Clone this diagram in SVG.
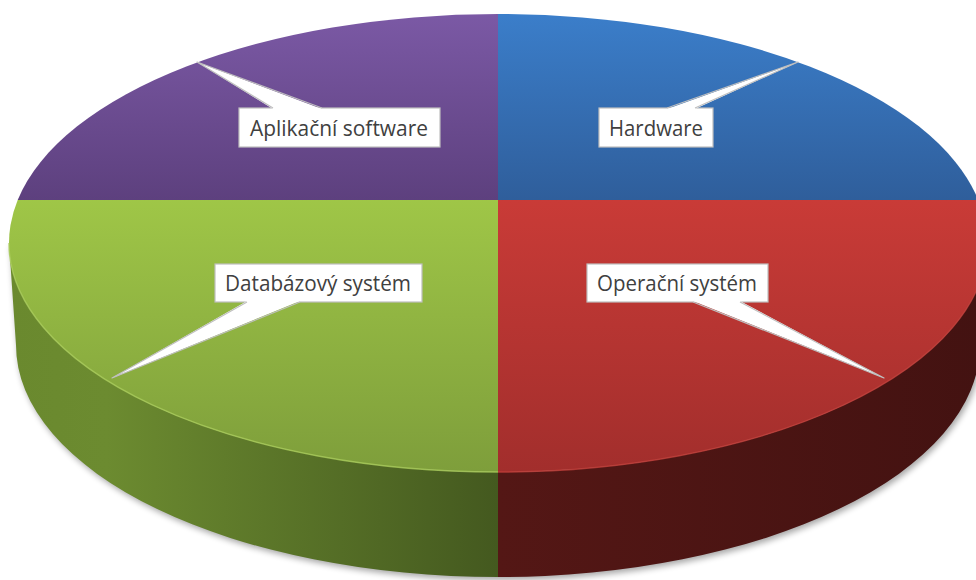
<svg xmlns="http://www.w3.org/2000/svg" width="976" height="580" viewBox="0 0 976 580">
  <defs>
    <linearGradient id="gPurple" gradientUnits="userSpaceOnUse" x1="0" y1="14" x2="0" y2="200">
      <stop offset="0" stop-color="#7b59a5"/>
      <stop offset="1" stop-color="#5d407e"/>
    </linearGradient>
    <linearGradient id="gBlue" gradientUnits="userSpaceOnUse" x1="0" y1="14" x2="0" y2="200">
      <stop offset="0" stop-color="#3b7eca"/>
      <stop offset="1" stop-color="#2f5e9b"/>
    </linearGradient>
    <linearGradient id="gGreen" gradientUnits="userSpaceOnUse" x1="0" y1="200" x2="0" y2="472">
      <stop offset="0" stop-color="#9fc647"/>
      <stop offset="1" stop-color="#7e9e3b"/>
    </linearGradient>
    <linearGradient id="gRed" gradientUnits="userSpaceOnUse" x1="0" y1="200" x2="0" y2="472">
      <stop offset="0" stop-color="#c93b37"/>
      <stop offset="1" stop-color="#a22e2c"/>
    </linearGradient>
    <linearGradient id="gGreenSide" gradientUnits="userSpaceOnUse" x1="9" y1="0" x2="498" y2="0">
      <stop offset="0" stop-color="#6a892e"/>
      <stop offset="0.2" stop-color="#6c8b30"/>
      <stop offset="1" stop-color="#44591f"/>
    </linearGradient>
    <linearGradient id="gRedSide" gradientUnits="userSpaceOnUse" x1="498" y1="0" x2="987" y2="0">
      <stop offset="0" stop-color="#541715"/>
      <stop offset="1" stop-color="#431211"/>
    </linearGradient>
    <filter id="shadow" x="-5%" y="-5%" width="110%" height="115%">
      <feGaussianBlur stdDeviation="3"/>
    </filter>
    <style>
      .box { fill: #ffffff; stroke: #bfbfbf; stroke-width: 1.2; }
      .lbl { font-family: "Open Sans", "Liberation Sans", sans-serif; font-size: 21px; fill: #404040; }
      .ptr { fill: #ffffff; stroke: none; }
      .ptrEdge { fill: none; stroke: #bfbfbf; stroke-width: 1.2; stroke-linejoin: round; }
      .rim { fill: none; stroke-width: 1.5; }
    </style>
  </defs>

  <rect width="976" height="580" fill="#ffffff"/>

  <!-- drop shadow -->
  <path d="M9,243 L16,345 A482,232 0 0,0 498,577 A482,232 0 0,0 980,345 L987,243 Z" fill="#000000" opacity="0.35" filter="url(#shadow)" transform="translate(2,3)"/>

  <g id="slice-databazovy">
    <path d="M9,243 L16,345 A482,232 0 0,0 498,577 L498,472 A489,229 0 0,1 9,243 Z" fill="url(#gGreenSide)"/>
    <path d="M498,200 L498,472 A489,229 0 0,1 17.7,200 Z" fill="url(#gGreen)"/>
    <path class="rim" d="M498,472 A489,229 0 0,1 9,243" stroke="#a9cc5a" opacity="0.8"/>
  </g>

  <g id="slice-operacni">
    <path d="M987,243 L980,345 A482,232 0 0,1 498,577 L498,472 A489,229 0 0,0 987,243 Z" fill="url(#gRedSide)"/>
    <path d="M498,200 L978.3,200 A489,229 0 0,1 498,472 Z" fill="url(#gRed)"/>
    <path class="rim" d="M498,472 A489,229 0 0,0 987,243" stroke="#c03e3a" opacity="0.8"/>
  </g>

  <g id="slice-aplikacni">
    <path d="M498,200 L17.7,200 A489,229 0 0,1 498,14 Z" fill="url(#gPurple)"/>
  </g>

  <g id="slice-hardware">
    <path d="M498,200 L498,14 A489,229 0 0,1 978.3,200 Z" fill="url(#gBlue)"/>
  </g>

  <g id="label-aplikacni">
    <rect class="box" x="239" y="108" width="201" height="39"/>
    <text class="lbl" x="250" y="136" textLength="178" lengthAdjust="spacingAndGlyphs">Aplikační software</text>
  </g>

  <g id="label-hardware">
    <rect class="box" x="599" y="108" width="114" height="39"/>
    <text class="lbl" x="609" y="136" textLength="94" lengthAdjust="spacingAndGlyphs">Hardware</text>
  </g>

  <g id="label-databazovy">
    <rect class="box" x="215" y="264" width="207" height="38"/>
    <text class="lbl" x="225" y="291" textLength="186" lengthAdjust="spacingAndGlyphs">Databázový systém</text>
  </g>

  <g id="label-operacni">
    <rect class="box" x="587" y="264" width="181" height="38"/>
    <text class="lbl" x="597" y="291" textLength="160" lengthAdjust="spacingAndGlyphs">Operační systém</text>
  </g>

  <g id="connectors">
    <polygon class="ptr" points="273,109 197,62 322,109"/>
    <polyline class="ptrEdge" points="273,108 197,62 322,108"/>
    <polygon class="ptr" points="667,109 798,62 695,109"/>
    <polyline class="ptrEdge" points="667,108 798,62 695,108"/>
    <polygon class="ptr" points="247,301 112,378 300,301"/>
    <polyline class="ptrEdge" points="247,302 112,378 300,302"/>
    <polygon class="ptr" points="693,301 884,378 740,301"/>
    <polyline class="ptrEdge" points="693,302 884,378 740,302"/>
  </g>
</svg>
